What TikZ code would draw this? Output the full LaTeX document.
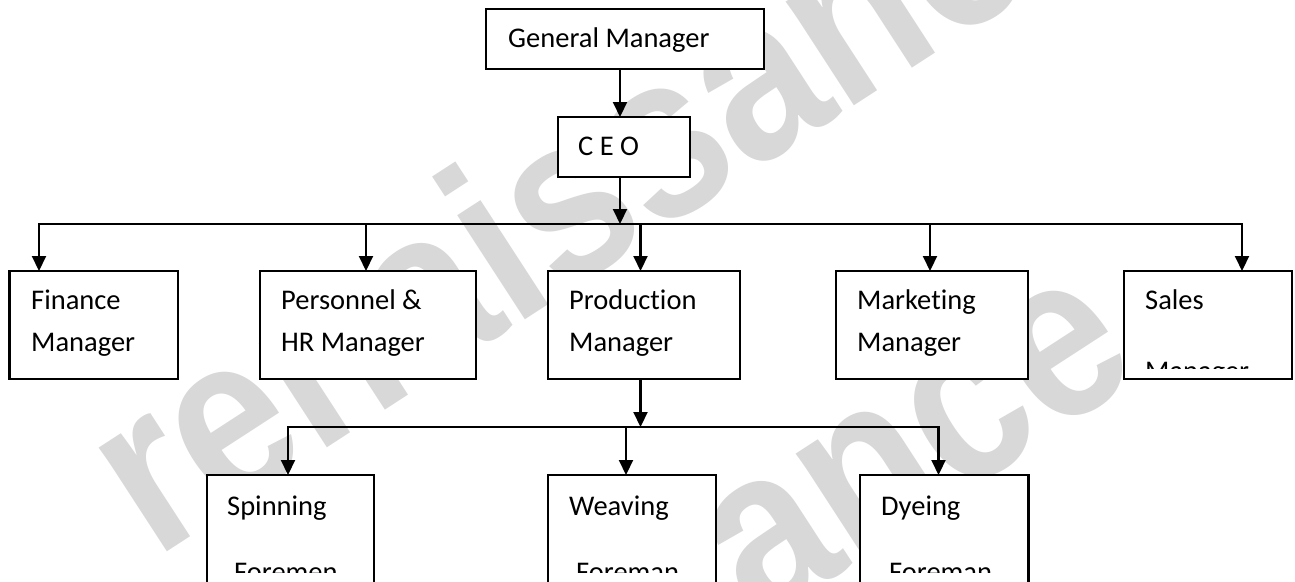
\documentclass[tikz,border=0pt]{standalone}
\usepackage{fontspec}
\setmainfont{Carlito}[Ligatures=NoCommon]
\newfontfamily\markfont{Liberation Sans}
\usetikzlibrary{arrows.meta}
\definecolor{markgray}{RGB}{216,216,216}

\tikzset{
  box/.style={draw, line width=2.1pt, fill=white, inner sep=0pt, outer sep=0pt, anchor=north west},
  lbl/.style={anchor=base west, inner sep=0pt, font=\fontsize{28.5}{34}\selectfont},
  conn/.style={line width=2.1pt, line cap=rect},
  arr/.style={line width=2.1pt, -{Triangle[length=15pt,width=14pt]}},
  wmark/.style={anchor=base west, inner sep=0pt, text=markgray,
    font=\markfont\bfseries\fontsize{235}{235}\selectfont, rotate=33, xscale=0.86}
}

\begin{document}
\begin{tikzpicture}[x=1pt,y=-1pt]
\useasboundingbox (0,0) rectangle (1295,581);
\clip (0,0) rectangle (1295,581);
\fill[white] (0,0) rectangle (1295,581);

% background watermark
\node[wmark] (wm1) at (155,560) {renaissance};
\node[wmark] (wm2) at (165,1012) {renaissance};

% boxes
\node[box, minimum width=278pt, minimum height=60pt]  (gm)  at (486,9)   {};
\node[box, minimum width=132pt, minimum height=60pt]  (ceo) at (558,117) {};
\node[box, minimum width=168.5pt, minimum height=108pt] (fin) at (9.5,271) {};
\node[box, minimum width=216pt, minimum height=108pt] (per) at (260,271) {};
\node[box, minimum width=192pt, minimum height=108pt] (pro) at (548,271) {};
\node[box, minimum width=192pt, minimum height=108pt] (mkt) at (836,271) {};
\node[box, minimum width=168pt, minimum height=108pt] (sal) at (1124,271) {};
\node[box, minimum width=167pt, minimum height=150pt] (spi) at (207,475) {};
\node[box, minimum width=168pt, minimum height=150pt] (wea) at (548,475) {};
\node[box, minimum width=168.5pt, minimum height=150pt] (dye) at (860,475) {};

% junction points
\coordinate (j0) at (620,224);
\coordinate (b1) at (39,224);
\coordinate (b2) at (366,224);
\coordinate (b3) at (640.5,224);
\coordinate (b4) at (930,224);
\coordinate (b5) at (1242,224);
\coordinate (j1) at (640.5,427);
\coordinate (c1) at (288,427);
\coordinate (c2) at (626,427);
\coordinate (c3) at (938.5,427);

% connectors
\draw[arr] (gm.south -| j0) -- (ceo.north -| j0);
\draw[arr] (ceo.south -| j0) -- (j0);
\draw[conn] (b1) -- (b5);
\draw[arr] (b1) -- (b1 |- fin.north);
\draw[arr] (b2) -- (b2 |- per.north);
\draw[arr] (b3) -- (b3 |- pro.north);
\draw[arr] (b4) -- (b4 |- mkt.north);
\draw[arr] (b5) -- (b5 |- sal.north);
\draw[arr] (pro.south -| j1) -- (j1);
\draw[conn] (c1) -- (c3);
\draw[arr] (c1) -- (c1 |- spi.north);
\draw[arr] (c2) -- (c2 |- wea.north);
\draw[arr] (c3) -- (c3 |- dye.north);

% labels
\node[lbl] (tgm)  at (508,47)  {General Manager};
\node[lbl] (tceo) at (578,155) {C E O};
\node[lbl] (tfin1) at (31,309)  {Finance};
\node[lbl] (tfin2) at (31,351)  {Manager};
\node[lbl] (tper1) at (281,309) {Personnel \&};
\node[lbl] (tper2) at (281,351) {HR Manager};
\node[lbl] (tpro1) at (569,309) {Production};
\node[lbl] (tpro2) at (569,351) {Manager};
\node[lbl] (tmkt1) at (857,309) {Marketing};
\node[lbl] (tmkt2) at (857,351) {Manager};
\node[lbl] (tsal1) at (1145,309) {Sales};
\begin{scope}
  \clip (1124,271) rectangle (1292,368);
  \node[lbl] (tsal2) at (1145,380) {Manager};
\end{scope}
\node[lbl] (tspi1) at (227,515) {Spinning};
\node[lbl] (twea1) at (569,515) {Weaving};
\node[lbl] (tdye1) at (881,515) {Dyeing};
\begin{scope}
  \clip (207,475) rectangle (1030,572);
  \node[lbl] (tspi2) at (234,581) {Foremen};
  \node[lbl] (twea2) at (576,581) {Foreman};
  \node[lbl] (tdye2) at (889,581) {Foreman};
\end{scope}
\end{tikzpicture}
\end{document}
